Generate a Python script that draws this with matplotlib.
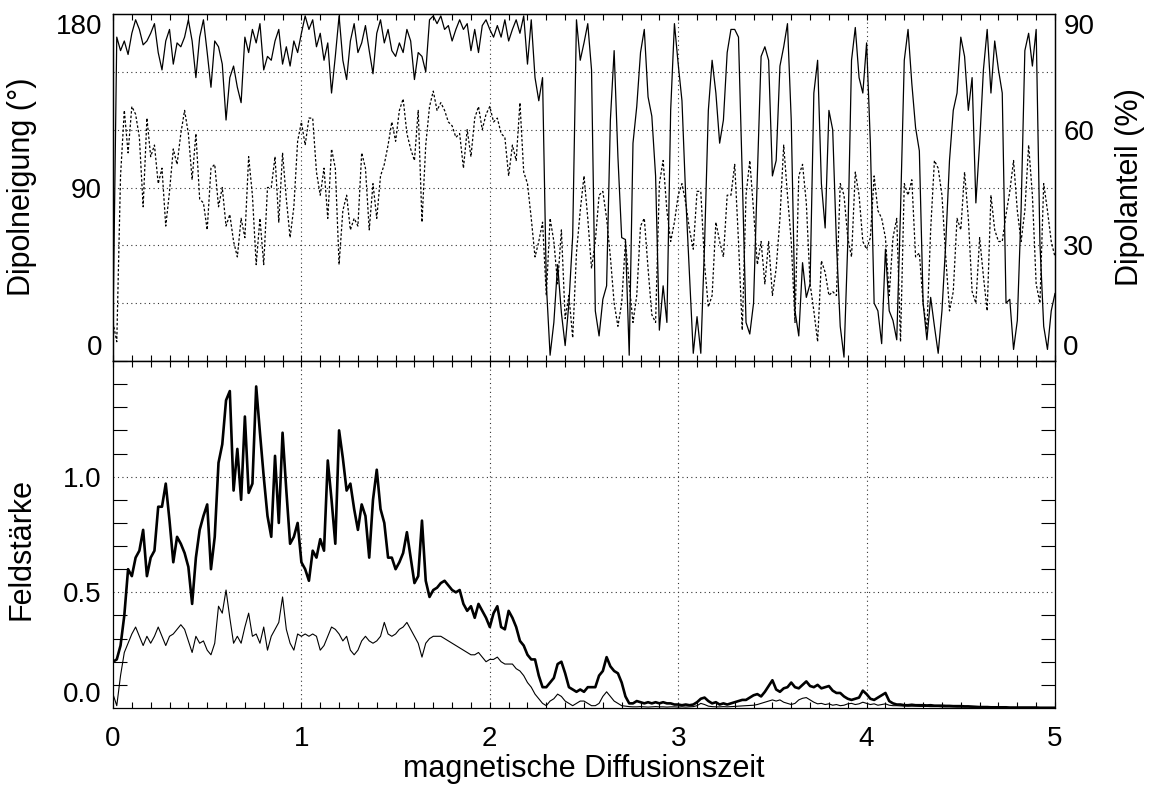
import matplotlib
matplotlib.use("Agg")
import matplotlib.pyplot as plt
import numpy as np
from matplotlib.ticker import FixedLocator, MultipleLocator

plt.rcParams["font.family"] = ["Liberation Sans", "DejaVu Sans"]

# sampling grid of the read-off values (magnetic diffusion time)
TIME = np.round(np.arange(0, 5.0001, 0.02), 2)

# dipole tilt in degrees (solid, left axis)
TILT_DEG = [
    18, 168, 161, 166, 159, 170, 177, 172, 164, 166, 170, 175, 160, 151, 166, 172, 154, 165, 163, 168, 177,
    166, 147, 168, 177, 160, 142, 166, 163, 154, 125, 147, 153, 142, 134, 168, 160, 172, 165, 175, 151, 158,
    156, 166, 172, 154, 163, 153, 166, 160, 170, 179, 172, 177, 163, 170, 156, 165, 139, 158, 179, 156,
    146, 166, 175, 160, 165, 174, 161, 149, 170, 177, 165, 172, 161, 158, 165, 160, 172, 166, 146, 160,
    158, 150, 177, 179, 175, 179, 172, 174, 166, 172, 177, 172, 175, 161, 172, 160, 174, 177, 172, 168, 174,
    168, 177, 166, 172, 177, 170, 179, 154, 177, 147, 135, 147, 40, 3, 20, 50, 25, 8, 30, 65,
    177, 156, 165, 175, 151, 26, 13, 32, 39, 125, 161, 106, 64, 63, 3, 113, 132, 160, 172, 137, 127,
    96, 16, 39, 20, 130, 175, 154, 135, 85, 44, 4, 23, 4, 61, 130, 156, 139, 113, 125, 160,
    172, 172, 168, 96, 20, 14, 30, 96, 158, 163, 156, 96, 104, 153, 163, 175, 125, 26, 13, 51, 33,
    40, 139, 156, 92, 69, 130, 120, 61, 18, 2, 61, 156, 173, 147, 139, 165, 113, 30, 26, 9, 58,
    26, 21, 11, 78, 156, 172, 144, 121, 109, 30, 11, 33, 18, 4, 26, 61, 104, 130, 139, 168, 158, 130, 147,
    82, 113, 151, 172, 139, 166, 151, 139, 30, 32, 6, 21, 78, 161, 170, 153, 172, 61, 18, 6, 26, 35,
]

# dipole share in percent (dotted, right axis)
DIPOLE_PCT = [
    10, 5, 48, 65, 54, 66, 64, 58, 40, 63, 53, 56, 46, 50, 35, 44, 55, 51, 59, 65, 59,
    47, 59, 42, 41, 34, 50, 51, 40, 45, 35, 38, 31, 27, 37, 32, 53, 43, 25, 37, 25, 45,
    45, 53, 36, 54, 42, 32, 40, 57, 62, 56, 63, 63, 49, 43, 50, 37, 55, 50, 25, 39,
    43, 34, 37, 35, 54, 50, 34, 46, 37, 48, 51, 56, 62, 57, 65, 68, 59, 55, 52, 65,
    36, 56, 66, 70, 65, 67, 65, 62, 61, 58, 59, 50, 60, 53, 63, 66, 60, 64, 66, 62, 63,
    59, 58, 48, 56, 52, 67, 49, 46, 37, 27, 31, 36, 17, 37, 31, 20, 34, 11, 17, 6,
    28, 39, 48, 37, 24, 31, 43, 44, 37, 27, 15, 9, 15, 31, 20, 10, 17, 35, 37, 24, 12,
    10, 46, 52, 39, 31, 36, 43, 46, 41, 34, 29, 44, 44, 25, 14, 17, 36, 31, 27, 43,
    43, 51, 31, 8, 43, 52, 39, 25, 31, 20, 31, 17, 24, 37, 56, 43, 31, 10, 48, 51, 41,
    20, 13, 5, 26, 23, 17, 18, 17, 46, 43, 32, 27, 49, 43, 31, 29, 32, 48, 39, 37, 32,
    17, 32, 37, 5, 46, 43, 47, 27, 28, 15, 8, 34, 52, 50, 43, 27, 13, 18, 37, 34, 49, 37, 18,
    15, 32, 22, 13, 43, 34, 31, 31, 38, 44, 52, 39, 31, 39, 56, 43, 20, 15, 46, 39, 31, 27,
]

# total field strength (thick line)
FIELD_TOTAL = [
    0.20, 0.21, 0.27, 0.40, 0.60, 0.57, 0.65, 0.68, 0.77, 0.57, 0.65, 0.68, 0.87,
    0.87, 0.97, 0.81, 0.63, 0.74, 0.71, 0.67, 0.61, 0.45, 0.65, 0.77, 0.83, 0.88,
    0.60, 0.74, 1.06, 1.14, 1.33, 1.37, 0.94, 1.12, 0.90, 1.26, 0.93, 0.97, 1.39,
    1.19, 1.00, 0.83, 0.74, 1.09, 0.80, 1.19, 0.94, 0.71, 0.74, 0.80, 0.63,
    0.60, 0.55, 0.68, 0.65, 0.73, 0.68, 1.07, 0.90, 0.71, 1.20, 1.08, 0.94, 0.97,
    0.86, 0.77, 0.88, 0.83, 0.65, 0.90, 1.03, 0.86, 0.80, 0.65, 0.65, 0.60,
    0.63, 0.67, 0.76, 0.65, 0.54, 0.57, 0.81, 0.55, 0.48, 0.51, 0.52, 0.54, 0.55,
    0.53, 0.51, 0.50, 0.51, 0.45, 0.42, 0.44, 0.39, 0.45, 0.42, 0.39, 0.35,
    0.41, 0.44, 0.35, 0.34, 0.42, 0.39, 0.35, 0.29, 0.27, 0.23, 0.21, 0.21, 0.14,
    0.09, 0.09, 0.11, 0.13, 0.19, 0.20, 0.15, 0.09, 0.08, 0.07, 0.08, 0.07,
    0.09, 0.09, 0.09, 0.14, 0.16, 0.22, 0.18, 0.16, 0.15, 0.11, 0.05, 0.02, 0.02,
    0.03, 0.025, 0.02, 0.025, 0.02, 0.025, 0.02, 0.025, 0.02, 0.02, 0.015, 0.015,
    0.012, 0.015, 0.012, 0.015, 0.025, 0.04, 0.045, 0.03, 0.02, 0.025, 0.015, 0.02, 0.015,
    0.02, 0.025, 0.03, 0.035, 0.035, 0.045, 0.055, 0.06, 0.05, 0.07, 0.095, 0.12,
    0.08, 0.07, 0.085, 0.09, 0.11, 0.09, 0.085, 0.10, 0.115, 0.095, 0.09, 0.10, 0.085,
    0.09, 0.095, 0.075, 0.065, 0.065, 0.05, 0.04, 0.035, 0.04, 0.045, 0.075, 0.06,
    0.04, 0.035, 0.045, 0.055, 0.065, 0.03, 0.02, 0.015, 0.015, 0.012, 0.012, 0.014, 0.012,
    0.012, 0.012, 0.011, 0.012, 0.01, 0.01, 0.01, 0.009, 0.009, 0.008, 0.008, 0.008,
    0.007, 0.007, 0.006, 0.005, 0.004, 0.004, 0.004, 0.003, 0.003, 0.003, 0.003, 0.003, 0.002,
    0.002, 0.002, 0.002, 0.002, 0.002, 0.002, 0.002, 0.001, 0.001, 0.001, 0.001, 0.001,
]

# dipole field strength (thin line)
FIELD_DIPOLE = [
    0.06, 0.01, 0.14, 0.24, 0.28, 0.32, 0.35, 0.31, 0.27, 0.31, 0.28, 0.31, 0.35,
    0.31, 0.27, 0.31, 0.32, 0.34, 0.36, 0.34, 0.29, 0.24, 0.31, 0.28, 0.29, 0.25,
    0.23, 0.28, 0.44, 0.41, 0.51, 0.39, 0.28, 0.31, 0.28, 0.35, 0.41, 0.31, 0.32,
    0.28, 0.35, 0.25, 0.31, 0.34, 0.37, 0.48, 0.34, 0.28, 0.25, 0.32, 0.31,
    0.32, 0.31, 0.32, 0.31, 0.25, 0.27, 0.31, 0.35, 0.34, 0.32, 0.29, 0.31, 0.25,
    0.23, 0.25, 0.29, 0.31, 0.29, 0.28, 0.29, 0.31, 0.37, 0.32, 0.31, 0.32,
    0.34, 0.35, 0.37, 0.34, 0.31, 0.28, 0.22, 0.28, 0.30, 0.31, 0.31, 0.31, 0.30,
    0.29, 0.28, 0.27, 0.26, 0.25, 0.24, 0.23, 0.23, 0.24, 0.22, 0.20, 0.21,
    0.21, 0.22, 0.20, 0.19, 0.19, 0.19, 0.17, 0.16, 0.14, 0.11, 0.09, 0.06, 0.04,
    0.02, 0.01, 0.03, 0.04, 0.06, 0.05, 0.03, 0.02, 0.01, 0.02, 0.03, 0.03,
    0.02, 0.01, 0.01, 0.02, 0.05, 0.07, 0.05, 0.03, 0.02, 0.01, 0.008, 0.006, 0.005,
    0.005, 0.006, 0.005, 0.004, 0.005, 0.006, 0.005, 0.005, 0.004, 0.005, 0.005, 0.004,
    0.005, 0.004, 0.005, 0.006, 0.01, 0.02, 0.015, 0.008, 0.006, 0.005, 0.005, 0.006, 0.005,
    0.006, 0.007, 0.008, 0.009, 0.01, 0.011, 0.012, 0.015, 0.02, 0.025, 0.03, 0.035,
    0.03, 0.035, 0.025, 0.02, 0.015, 0.02, 0.035, 0.042, 0.045, 0.035, 0.025, 0.018, 0.02,
    0.015, 0.018, 0.012, 0.015, 0.01, 0.012, 0.018, 0.02, 0.015, 0.018, 0.025, 0.02,
    0.015, 0.018, 0.012, 0.015, 0.018, 0.012, 0.01, 0.01, 0.009, 0.009, 0.008, 0.008, 0.008,
    0.007, 0.007, 0.007, 0.006, 0.006, 0.006, 0.005, 0.005, 0.005, 0.005, 0.004, 0.004,
    0.004, 0.004, 0.003, 0.003, 0.003, 0.003, 0.003, 0.002, 0.002, 0.002, 0.002, 0.002, 0.002,
    0.002, 0.001, 0.001, 0.001, 0.001, 0.001, 0.001, 0.001, 0.001, 0.001, 0.001, 0.001,
]

TILT_TICKS = [0, 90, 180]
SHARE_TICKS = [0, 30, 60, 90]
FIELD_TICKS = [0.0, 0.5, 1.0]
TIME_TICKS = [0, 1, 2, 3, 4, 5]
GRID_TILT = [30, 60, 90, 120, 150]
GRID_FIELD = [0.5, 1.0]
GRID_TIME = [1, 2, 3, 4]

W, H = 1151, 787
TICK_FS = 20
LABEL_FS = 22
GRID_KW = dict(color="#333333", lw=0.8, ls=(0, (1.0, 3.0)), zorder=0)


def box(left, top, right, bottom):
    return [left / W, 1 - bottom / H, (right - left) / W, (bottom - top) / H]


def style_time_axis(ax, show_labels):
    ax.set_xlim(0, 5)
    ax.xaxis.set_major_locator(FixedLocator(TIME_TICKS))
    ax.xaxis.set_minor_locator(MultipleLocator(0.1))
    ax.tick_params(axis="x", which="both", direction="in", length=4.3, width=0.8,
                   bottom=True, top=True, labelbottom=show_labels,
                   labelsize=TICK_FS, pad=13)
    for x in GRID_TIME:
        ax.axvline(x, **GRID_KW)
    for spine in ax.spines.values():
        spine.set_linewidth(0.9)


fig = plt.figure(figsize=(W / 100, H / 100), dpi=100)
ax_top = fig.add_axes(box(113, 14, 1055, 361))
ax_bot = fig.add_axes(box(113, 361, 1055, 708))

# ---- upper panel: tilt and dipole share
style_time_axis(ax_top, show_labels=False)
ax_top.set_ylim(0, 180)
ax_top.set_yticks(TILT_TICKS)
ax_top.tick_params(axis="y", length=0, pad=8, labelsize=TICK_FS)
for y in GRID_TILT:
    ax_top.axhline(y, **GRID_KW)
ax_top.plot(TIME, TILT_DEG, color="black", lw=0.9, zorder=3)

ax_r = ax_top.twinx()
ax_r.set_ylim(0, 90)
ax_r.set_yticks(SHARE_TICKS)
ax_r.tick_params(axis="y", length=0, pad=6, labelsize=TICK_FS)
ax_r.plot(TIME, DIPOLE_PCT, color="black", lw=0.9, ls=(0, (2.0, 1.6)), zorder=2)
for spine in ax_r.spines.values():
    spine.set_linewidth(0.9)

ticks = ax_top.yaxis.get_major_ticks()
ticks[0].label1.set_va("bottom")
ticks[-1].label1.set_va("top")
ticks = ax_r.yaxis.get_major_ticks()
ticks[0].label2.set_va("bottom")
ticks[-1].label2.set_va("top")

# ---- lower panel: field strength
style_time_axis(ax_bot, show_labels=True)
ax_bot.set_ylim(0, 1.5)
ax_bot.yaxis.set_major_locator(FixedLocator(FIELD_TICKS))
ax_bot.yaxis.set_major_formatter(plt.FuncFormatter(lambda v, p: f"{v:.1f}"))
ax_bot.yaxis.set_minor_locator(MultipleLocator(0.1))
ax_bot.tick_params(axis="y", which="major", length=0, pad=8, labelsize=TICK_FS)
ax_bot.tick_params(axis="y", which="minor", direction="in", length=10, width=0.8,
                   left=True, right=True)
for y in GRID_FIELD:
    ax_bot.axhline(y, **GRID_KW)
ax_bot.plot(TIME, FIELD_DIPOLE, color="black", lw=0.8, zorder=2)
ax_bot.plot(TIME, FIELD_TOTAL, color="black", lw=1.9, zorder=3)
ax_bot.yaxis.get_major_ticks()[0].label1.set_va("bottom")

fig.text(22 / W, 1 - 187 / H, "Dipolneigung (°)", rotation=90,
         ha="center", va="center", fontsize=LABEL_FS)
fig.text(1130 / W, 1 - 187 / H, "Dipolanteil (%)", rotation=90,
         ha="center", va="center", fontsize=LABEL_FS)
fig.text(22 / W, 1 - 549 / H, "Feldstärke", rotation=90,
         ha="center", va="center", fontsize=LABEL_FS)
fig.text(584 / W, 1 - 769 / H, "magnetische Diffusionszeit",
         ha="center", va="center", fontsize=LABEL_FS)

fig.savefig("out.png", dpi=100)
